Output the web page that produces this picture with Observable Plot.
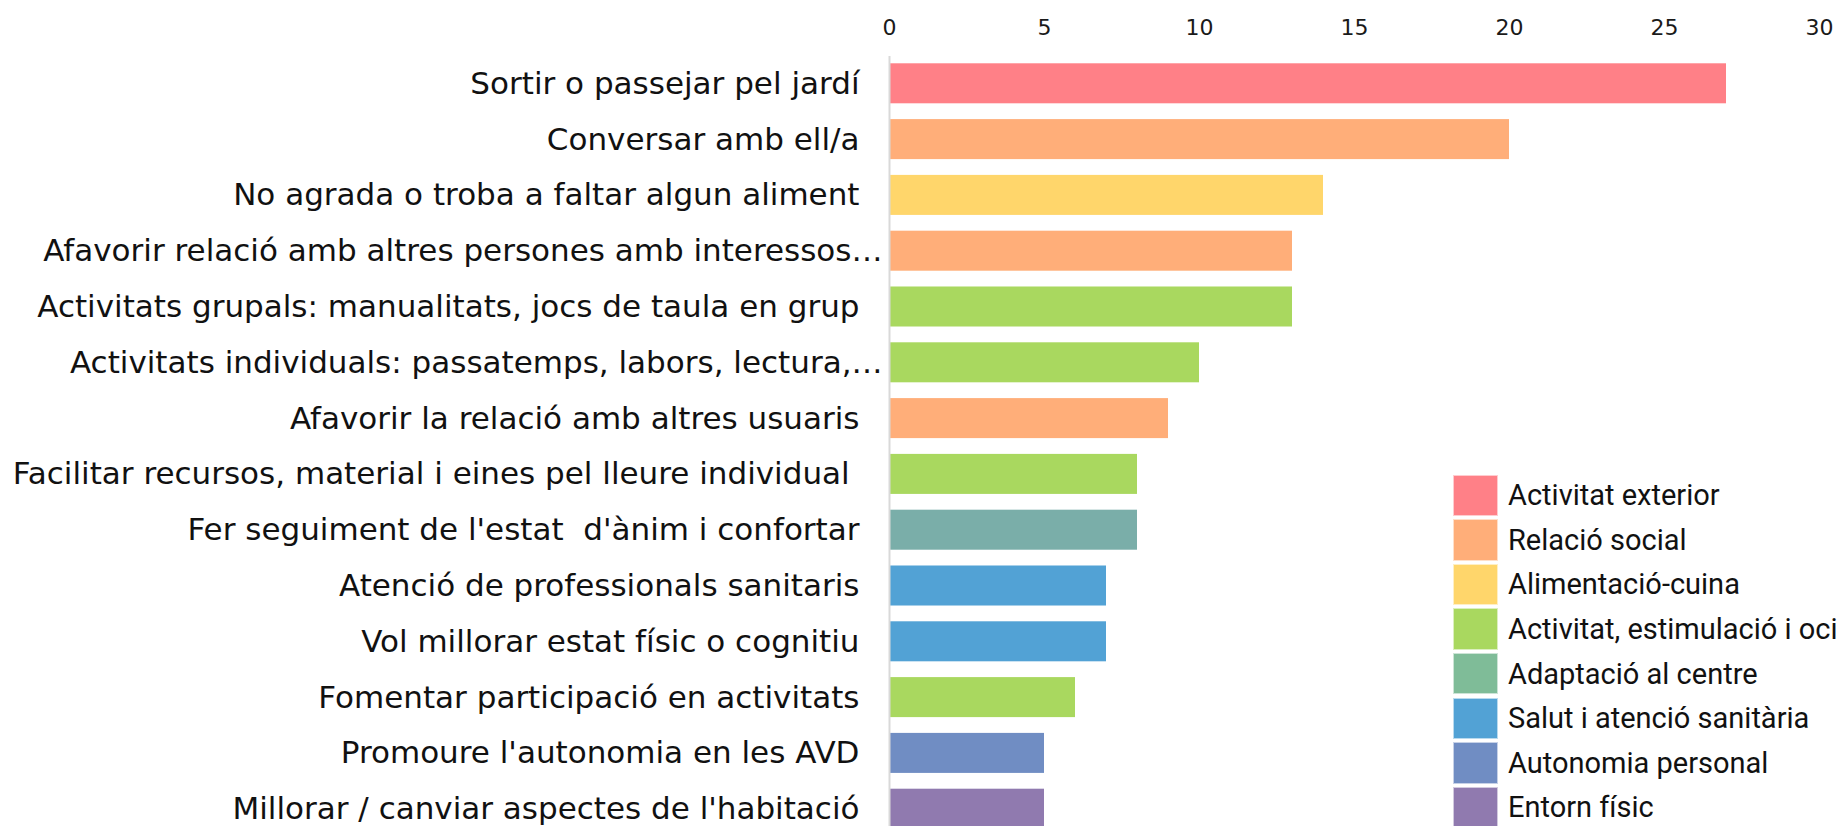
<!DOCTYPE html>
<html>
<head>
<meta charset="utf-8">
<script src="https://cdn.jsdelivr.net/npm/d3@7"></script>
<script src="https://cdn.jsdelivr.net/npm/@observablehq/plot@0.6"></script>
<style>
  html, body { margin: 0; padding: 0; background: #fff; }
  #wrap { position: relative; width: 1840px; height: 826px; overflow: hidden; }
  #chart svg text { white-space: pre; }
  #legend { position: absolute; left: 1453px; top: 473px; font-family: Roboto, "Liberation Sans", sans-serif; font-size: 29px; color: #111; }
  #legend .row { display: flex; align-items: center; height: 44.6px; white-space: nowrap; }
  #legend .sw { width: 45px; height: 41.5px; box-sizing: border-box; border: 1px solid rgba(255,255,255,0.6); margin-right: 10px; flex: none; }
</style>
</head>
<body>
<div id="wrap">
  <div id="chart"></div>
  <div id="legend"></div>
</div>
<script>
// ---- data ----
const labels = [
  "Sortir o passejar pel jardí",
  "Conversar amb ell/a",
  "No agrada o troba a faltar algun aliment",
  "Afavorir relació amb altres persones amb interessos…",
  "Activitats grupals: manualitats, jocs de taula en grup",
  "Activitats individuals: passatemps, labors, lectura,…",
  "Afavorir la relació amb altres usuaris",
  "Facilitar recursos, material i eines pel lleure individual ",
  "Fer seguiment de l'estat  d'ànim i confortar",
  "Atenció de professionals sanitaris",
  "Vol millorar estat físic o cognitiu",
  "Fomentar participació en activitats",
  "Promoure l'autonomia en les AVD",
  "Millorar / canviar aspectes de l'habitació"
];
const values = [27, 20, 14, 13, 13, 10, 9, 8, 8, 7, 7, 6, 5, 5];
const groups = [
  "Activitat exterior",
  "Relació social",
  "Alimentació-cuina",
  "Relació social",
  "Activitat, estimulació i oci",
  "Activitat, estimulació i oci",
  "Relació social",
  "Activitat, estimulació i oci",
  "Adaptació al centre",
  "Salut i atenció sanitària",
  "Salut i atenció sanitària",
  "Activitat, estimulació i oci",
  "Autonomia personal",
  "Entorn físic"
];
const categories = [
  "Activitat exterior",
  "Relació social",
  "Alimentació-cuina",
  "Activitat, estimulació i oci",
  "Adaptació al centre",
  "Salut i atenció sanitària",
  "Autonomia personal",
  "Entorn físic"
];
const xTicks = [0, 5, 10, 15, 20, 25, 30];

// ---- styles ----
const barColors = ["#FF8087", "#FFAE79", "#FFD66B", "#A9D85F", "#7AAEA9", "#52A2D5", "#708DC3", "#907AAF"];
const legendColors = ["#FF8087", "#FFAE79", "#FFD66B", "#A9D85F", "#7FBC98", "#52A2D5", "#708DC3", "#907AAF"];

const table = labels.map((l, i) => ({label: l, value: values[i], group: groups[i]}));
const truncated = table.filter(d => d.label.endsWith("…"));
const normal = table.filter(d => !d.label.endsWith("…"));

const chart = Plot.plot({
  width: 1840,
  height: 826,
  marginLeft: 889,
  marginRight: 21,
  marginTop: 56,
  marginBottom: 0,
  style: {fontFamily: "'DejaVu Sans', sans-serif", background: "white", color: "#1a1a1a"},
  x: {domain: [0, 30], axis: null, label: null},
  y: {domain: labels, range: [47.5, 844.5], padding: 0.283, round: false, axis: null, label: null},
  color: {domain: categories, range: barColors},
  marks: [
    Plot.barX(table, {x: "value", y: "label", fill: "group"}),
    Plot.ruleX([0], {stroke: "#d9d9d9", strokeWidth: 2}),
    Plot.axisX({anchor: "top", ticks: xTicks, tickSize: 0, tickPadding: 22, fontSize: 22, fill: "#1a1a1a", label: null}),
    Plot.text(normal, {x: 0, y: "label", text: "label", textAnchor: "end", dx: -30, fontSize: 31, fill: "#111"}),
    Plot.text(truncated, {x: 0, y: "label", text: "label", textAnchor: "end", dx: -7, fontSize: 31, fill: "#111"})
  ]
});
document.getElementById("chart").appendChild(chart);

const legend = d3.select("#legend");
categories.forEach((c, i) => {
  const row = legend.append("div").attr("class", "row");
  row.append("div").attr("class", "sw").style("background", legendColors[i]);
  row.append("span").text(c);
});
</script>
</body>
</html>
